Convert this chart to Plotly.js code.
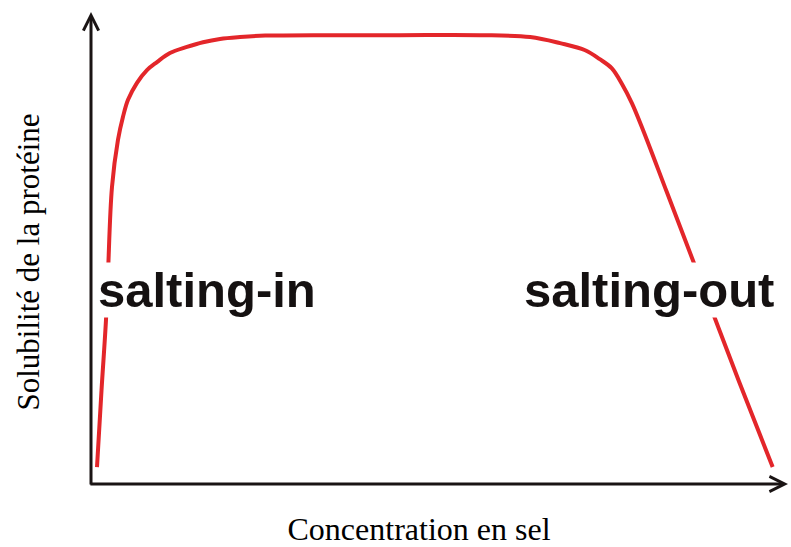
<!DOCTYPE html>
<html>
<head>
<meta charset="utf-8">
<script src="https://cdn.plot.ly/plotly-3.0.1.min.js"></script>
<style>html,body{margin:0;padding:0;background:#fff;}#chart{width:791px;height:547px;}</style>
</head>
<body>
<div id="chart"></div>
<script>
// Salt concentration (arbitrary units, 0 = origin, 100 = end of axis)
var concentration = [0.86, 1.51, 2.15, 2.44, 3.01, 3.87, 4.59, 5.31, 6.60, 8.03, 9.47, 11.33, 13.77, 16.07, 18.51, 21.38, 25.0, 34.3, 44.3, 55.8, 63.0, 67.3, 70.9, 73.0, 74.7, 76.2, 77.6, 79.2, 82.6, 86.9, 93.0, 97.8];
// Protein solubility (arbitrary units)
var solubility = [3.6, 19.9, 34.7, 44.7, 62.9, 72.9, 77.8, 81.4, 85.0, 87.7, 89.4, 91.3, 92.6, 93.6, 94.3, 94.7, 95.0, 95.1, 95.1, 95.1, 94.7, 93.4, 91.9, 90.0, 88.1, 84.7, 80.7, 75.0, 61.9, 45.3, 21.6, 3.6];

var labelTexts = ['salting-in', 'salting-out'];
var labelX = [0.86, 62.0];
var labelY = [41.2, 41.2];
var xTitle = 'Concentration en sel';
var yTitle = 'Solubilité de la protéine';

var trace = {
  x: concentration,
  y: solubility,
  type: 'scatter',
  mode: 'lines',
  line: {color: '#e3262a', width: 4, shape: 'spline', smoothing: 1.0},
  hoverinfo: 'skip',
  showlegend: false
};

var axisColor = '#1a1414';
var annotations = [
  // y axis arrow
  {x: 0, y: 100, ax: 0, ay: -0.4, xref: 'x', yref: 'y', axref: 'x', ayref: 'y',
   text: '', showarrow: true, arrowhead: 5, arrowsize: 1, arrowwidth: 3, arrowcolor: axisColor, standoff: 0, startstandoff: 0},
  // x axis arrow
  {x: 100, y: 0, ax: -0.3, ay: 0, xref: 'x', yref: 'y', axref: 'x', ayref: 'y',
   text: '', showarrow: true, arrowhead: 5, arrowsize: 1, arrowwidth: 3, arrowcolor: axisColor, standoff: 0, startstandoff: 0}
];
for (var i = 0; i < labelTexts.length; i++) {
  annotations.push({
    x: labelX[i], y: labelY[i], xref: 'x', yref: 'y',
    xanchor: 'left', yanchor: 'middle',
    text: labelTexts[i], showarrow: false,
    bgcolor: '#ffffff', borderpad: 0,
    font: {family: 'Liberation Sans, Arial, sans-serif', size: 49, color: '#151111', weight: 'bold'}
  });
}

var layout = {
  width: 791, height: 547,
  margin: {l: 50, r: 3, t: 12, b: 35},
  paper_bgcolor: '#ffffff', plot_bgcolor: '#ffffff',
  xaxis: {range: [-5.882, 100], showgrid: false, zeroline: false, showline: false,
          showticklabels: false, ticks: '', fixedrange: true,
          title: {text: xTitle, standoff: 8, font: {family: 'Liberation Serif, Times New Roman, serif', size: 32, color: '#000'}}},
  yaxis: {range: [-5.93, 100], showgrid: false, zeroline: false, showline: false,
          showticklabels: false, ticks: '', fixedrange: true,
          title: {text: yTitle, standoff: 0, font: {family: 'Liberation Serif, Times New Roman, serif', size: 31, color: '#000'}}},
  annotations: annotations,
  showlegend: false
};

Plotly.newPlot('chart', [trace], layout, {staticPlot: true, displayModeBar: false});
</script>
</body>
</html>
